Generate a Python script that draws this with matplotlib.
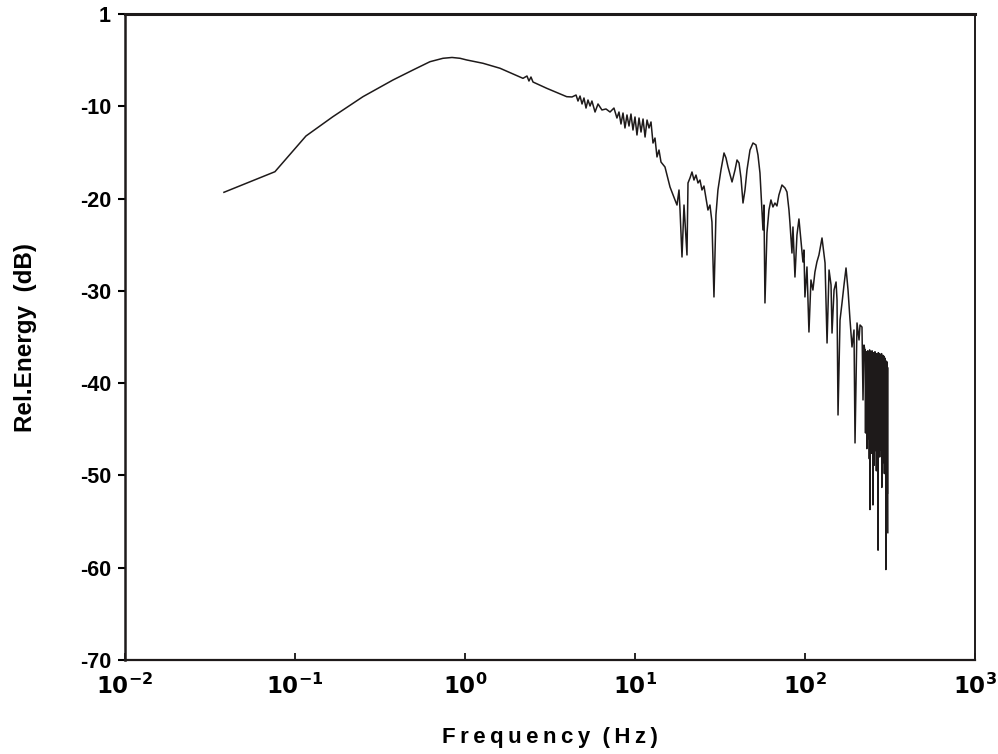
import matplotlib
matplotlib.use("Agg")
import matplotlib.pyplot as plt
import numpy as np

plt.rcParams['font.family'] = ['Liberation Sans', 'DejaVu Sans']
plt.rcParams['font.weight'] = 'bold'
plt.rcParams['axes.unicode_minus'] = False

# smooth low-frequency part (Hz, dB)
rise_freq = [0.0382, 0.0762, 0.116, 0.167, 0.251, 0.377, 0.494, 0.622, 0.742,
             0.839, 0.935, 1.023, 1.276, 1.607, 2.193, 2.315, 2.378, 2.444,
             2.512, 3.024, 3.965]
rise_db = [-19.32, -17.09, -13.22, -11.13, -8.96, -7.15, -6.07, -5.17, -4.80,
           -4.71, -4.80, -4.98, -5.34, -5.88, -6.97, -6.72, -7.26, -6.83,
           -7.37, -8.05, -8.96]

# noisy mid band
mid_freq = [4.26, 4.50, 4.62, 4.75, 4.88, 5.01, 5.15, 5.29, 5.44, 5.58,
            5.82, 6.06, 6.39, 6.75, 7.13, 7.52, 7.83, 8.05, 8.27, 8.50,
            8.73, 8.97, 9.22, 9.47, 9.73, 10.0, 10.27, 10.56, 10.85, 11.15,
            11.46, 11.77, 12.09, 12.42, 12.76, 13.11, 13.47, 13.84, 14.22, 15.01,
            15.43, 16.07, 16.74, 17.19, 17.66, 18.15, 18.40, 18.90, 19.42, 19.68,
            20.22, 20.50, 21.06, 21.64, 22.23, 22.84, 23.47, 24.11, 24.77, 25.45,
            26.15, 26.86, 27.60, 28.36, 29.14, 29.93, 30.75, 32.04, 33.39, 34.30,
            35.24, 36.72, 37.22, 38.76, 39.82, 40.91, 42.03, 43.18, 44.36, 45.58,
            47.47, 49.43, 51.48, 52.89, 54.34, 55.83, 56.59, 57.36, 58.14, 59.73,
            61.37, 63.05, 64.78, 66.55, 68.38, 70.25, 73.20, 76.24, 78.33, 80.48,
            81.57, 83.81, 84.95, 87.28, 89.67, 92.13, 94.65, 97.25, 98.59, 99.91,
            102.7, 105.5, 108.4, 111.3, 114.4, 117.5, 120.8, 125.9, 129.4, 131.2,
            134.8, 138.5, 142.3, 144.2, 148.2, 152.3, 154.3, 156.4, 160.7, 165.1,
            169.6, 174.3, 179.1, 184.0, 189.0, 194.2, 196.9, 202.3, 207.9, 210.7,
            216.4, 219.4, 222.3, 225.0]
mid_db = [-8.99, -8.78, -9.43, -8.89, -9.75, -9.10, -10.19, -9.32, -9.97, -9.43,
          -10.62, -9.75, -10.40, -10.29, -10.62, -10.19, -11.27, -10.62, -11.92, -10.73,
          -12.35, -10.94, -12.14, -10.84, -12.57, -11.16, -13.11, -11.27, -12.79, -11.38,
          -13.33, -11.49, -12.35, -11.70, -13.98, -13.44, -15.49, -14.74, -16.04, -16.58,
          -17.45, -18.75, -19.61, -20.15, -20.70, -19.07, -21.24, -26.33, -20.70, -22.54,
          -26.11, -18.31, -17.77, -17.12, -17.99, -17.45, -18.31, -17.99, -19.07, -18.64,
          -19.94, -21.24, -20.70, -22.54, -30.66, -21.78, -19.07, -16.90, -15.06, -15.60,
          -16.58, -17.77, -18.20, -16.90, -15.82, -16.14, -17.77, -20.48, -19.07, -16.90,
          -14.74, -13.98, -14.19, -15.28, -17.23, -21.24, -23.40, -20.70, -31.31, -23.73,
          -21.24, -20.15, -20.91, -20.48, -20.80, -19.61, -18.53, -18.85, -19.29, -21.24,
          -22.65, -25.90, -23.08, -28.50, -23.95, -22.21, -24.49, -26.87, -25.57, -30.66,
          -27.41, -34.46, -28.82, -29.91, -27.96, -26.87, -26.11, -24.27, -26.11, -26.98,
          -35.65, -27.74, -29.36, -34.57, -29.91, -29.04, -30.99, -43.45, -33.16, -31.31,
          -29.36, -27.52, -29.91, -33.16, -36.08, -34.24, -46.48, -33.48, -35.32, -33.70,
          -33.92, -41.82, -35.87, -36.41]

# dense high-frequency block
dense_freq = [226, 227, 228, 229, 230, 231, 232, 233, 234, 235, 236, 237, 238,
              239, 240, 241, 242, 243, 244, 245, 246, 247, 248, 249, 250, 251,
              252, 253, 254, 255, 256, 257, 258, 259, 260, 261, 262, 263, 264,
              265, 266, 267, 268, 269, 270, 271, 272, 273, 274, 275, 276, 277,
              278, 279, 280, 281, 282, 283, 284, 285, 286, 287, 288, 289, 290,
              291, 292, 293, 294, 295, 296, 297, 298, 299, 300, 301, 302, 303,
              304, 305, 306, 307]
dense_db = [-36.4, -45.4, -36.9, -43.8, -36.6, -47.1, -37.2, -44.5, -36.5, -46.0,
            -36.8, -43.9, -37.3, -48.2, -36.4, -53.7, -36.9, -45.1, -36.6, -47.6,
            -37.1, -44.2, -36.5, -46.8, -36.9, -53.2, -37.4, -45.7, -36.7, -48.9,
            -37.0, -44.6, -36.6, -47.3, -37.2, -45.2, -36.8, -49.5, -37.5, -46.1,
            -36.9, -44.8, -37.1, -58.1, -36.7, -46.5, -37.3, -45.0, -36.8, -48.0,
            -37.6, -44.7, -36.9, -47.2, -37.4, -45.8, -36.8, -51.3, -37.2, -46.4,
            -37.7, -44.9, -37.0, -48.6, -37.5, -46.2, -37.1, -49.8, -37.8, -45.3,
            -37.3, -47.5, -37.9, -60.2, -37.6, -46.9, -38.2, -48.4, -37.7, -52.0,
            -38.3, -56.2]

y_ticks = [0, -10, -20, -30, -40, -50, -60, -70]
y_labels = ['1', '-10', '-20', '-30', '-40', '-50', '-60', '-70']
x_ticks = [1e-2, 1e-1, 1e0, 1e1, 1e2, 1e3]
x_labels = [r'$\mathbf{10^{-2}}$', r'$\mathbf{10^{-1}}$', r'$\mathbf{10^{0}}$',
            r'$\mathbf{10^{1}}$', r'$\mathbf{10^{2}}$', r'$\mathbf{10^{3}}$']

freq = np.concatenate([rise_freq, mid_freq, dense_freq])
energy = np.concatenate([rise_db, mid_db, dense_db])

fig = plt.figure(figsize=(9.98, 7.54), dpi=100)
ax = fig.add_axes([125 / 998, 94 / 754, 850 / 998, 646 / 754])

ax.plot(freq, energy, color='#1e1a1a', lw=1.1)

ax.set_xscale('log')
ax.set_xlim(1e-2, 1e3)
ax.set_ylim(-70, 0)

ax.set_xticks(x_ticks)
ax.set_xticklabels(x_labels)
ax.xaxis.set_minor_locator(matplotlib.ticker.NullLocator())
ax.set_yticks(y_ticks)
ax.set_yticklabels(y_labels)

ax.tick_params(axis='y', direction='out', length=5, width=1.5, labelsize=15.5, pad=5)
ax.tick_params(axis='x', direction='in', length=5, width=1.2, labelsize=16.5, pad=10)

for side, lw in [('top', 2.2), ('left', 1.8), ('bottom', 1.6), ('right', 1.4)]:
    ax.spines[side].set_linewidth(lw)
    ax.spines[side].set_color('#1e1a1a')

thin = '\u2009'
xlabel = '  '.join(thin.join(word) for word in ['Frequency', '(Hz)'])
ax.set_xlabel(xlabel, fontsize=16, fontweight='bold', labelpad=20)
ax.set_ylabel('Rel.Energy  (dB)', fontsize=17.5, fontweight='bold', labelpad=31)

fig.savefig('out.png', dpi=100)
